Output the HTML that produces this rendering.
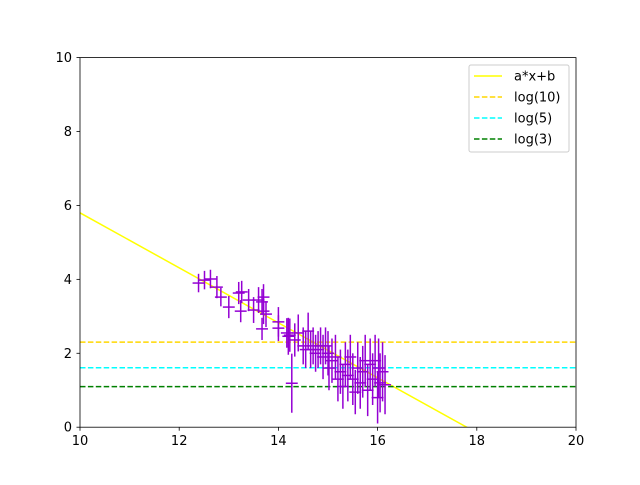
<!DOCTYPE html>
<html><head><meta charset="utf-8"><style>
body{margin:0;background:#fff;font-family:"Liberation Sans","DejaVu Sans",sans-serif;}
svg text{font-family:"DejaVu Sans","Liberation Sans",sans-serif;font-size:13px;fill:#000}
</style></head><body>
<svg id="chart" width="640" height="480" xmlns="http://www.w3.org/2000/svg">
<rect width="640" height="480" fill="#fff"/>
<g id="plot"></g>
<rect x="80" y="57.6" width="496" height="369.6" fill="none" stroke="#000" stroke-width="0.8"/>
<g id="axes"></g>
<g id="legend">
<rect x="469" y="65" width="100" height="87" fill="#fff" stroke="#ccc" rx="2"/>
</g>
</svg>
<script>
const xTicks=[10,12,14,16,18,20];
const yTicks=[0,2,4,6,8,10];
const slope=-0.744, intercept=13.24;
const hLines=[2.303,1.609,1.099];
const hLabels=["log(10)","log(5)","log(3)"];
const hColors=["#ffd700","#00ffff","#008000"];
const px=[12.39,12.51,12.63,12.76,12.84,13.0,13.2,13.26,13.24,13.4,13.5,13.6,13.67,13.7,13.7,13.67,13.75,14.0,14.0,14.17,14.23,14.27,14.2,14.33,14.4,14.5,14.55,14.6,14.65,14.7,14.75,14.8,14.85,14.9,14.95,15.0,15.02,15.08,15.15,15.2,15.25,15.3,15.35,15.4,15.45,15.5,15.55,15.6,15.65,15.7,15.75,15.8,15.85,15.9,15.95,16.0,16.02,16.05,16.1,16.15];
const py=[3.90,3.98,4.01,3.79,3.52,3.25,3.63,3.66,3.14,3.44,3.17,3.44,3.39,3.52,3.14,2.66,3.06,2.85,2.68,2.55,2.49,1.19,2.46,2.36,2.55,2.2,2.1,2.6,2.1,2.2,2.0,2.1,2.2,1.9,2.2,2.0,1.6,1.8,1.9,1.3,1.5,1.1,1.7,1.4,1.9,1.3,0.95,1.6,1.2,1.5,1.8,1.0,1.7,1.3,1.8,0.8,1.6,1.2,1.5,1.15];
const pyErr=[0.25,0.25,0.25,0.3,0.25,0.3,0.3,0.3,0.3,0.3,0.35,0.35,0.35,0.35,0.35,0.3,0.35,0.4,0.35,0.4,0.45,0.8,0.5,0.45,0.5,0.5,0.5,0.5,0.5,0.5,0.5,0.5,0.5,0.6,0.5,0.6,0.6,0.6,0.6,0.6,0.6,0.6,0.6,0.7,0.6,0.7,0.6,0.7,0.7,0.7,0.7,0.7,0.7,0.7,0.7,0.7,0.8,0.8,0.8,0.8];
const pxErr=0.12;
const X=v=>80+(v-10)*49.6, Y=v=>427.2-v*36.96;
const NS="http://www.w3.org/2000/svg";
function mk(t,a,p){const e=document.createElementNS(NS,t);for(const k in a)e.setAttribute(k,a[k]);p.appendChild(e);return e;}
const plot=document.getElementById('plot'), axes=document.getElementById('axes'), leg=document.getElementById('legend');
const clip=mk('clipPath',{id:'c'},plot);mk('rect',{x:80,y:57.6,width:496,height:369.6},clip);
const g=mk('g',{'clip-path':'url(#c)'},plot);
// fit line
let l=mk('line',{x1:X(10),y1:Y(slope*10+intercept),x2:X(20),y2:Y(slope*20+intercept),stroke:'#ffff00','stroke-width':1.5},g);


hLines.forEach((v,i)=>{const e=mk('line',{x1:80,x2:576,y1:Y(v),y2:Y(v),stroke:hColors[i],'stroke-width':1.5,'stroke-dasharray':'5.5,2.4'},g);

});
px.forEach((x,i)=>{const y=py[i];const gg=mk('g',{stroke:'#9400d3','stroke-width':1.5},g);


mk('line',{x1:X(x),x2:X(x),y1:Y(y-pyErr[i]),y2:Y(y+pyErr[i])},gg);
mk('line',{x1:X(x-pxErr),x2:X(x+pxErr),y1:Y(y),y2:Y(y)},gg);});
xTicks.forEach(t=>{mk('line',{x1:X(t),x2:X(t),y1:427.2,y2:430.7,stroke:'#000','stroke-width':0.8},axes);
const tx=mk('text',{x:X(t),y:445,'text-anchor':'middle'},axes);tx.textContent=t;

});
yTicks.forEach(t=>{mk('line',{x1:76.5,x2:80,y1:Y(t),y2:Y(t),stroke:'#000','stroke-width':0.8},axes);
const tx=mk('text',{x:72,y:Y(t)+4.5,'text-anchor':'end'},axes);tx.textContent=t;

});
const labs=["a*x+b"].concat(hLabels), cols=["#ffff00"].concat(hColors);
labs.forEach((s,i)=>{const y=76+i*21;
const e=mk('line',{x1:474,x2:502,y1:y,y2:y,stroke:cols[i],'stroke-width':1.5},leg);
if(i>0)e.setAttribute('stroke-dasharray','5.5,2.4');


const t=mk('text',{x:514,y:y+4.5},leg);t.textContent=s;

});
</script>
</body></html>
